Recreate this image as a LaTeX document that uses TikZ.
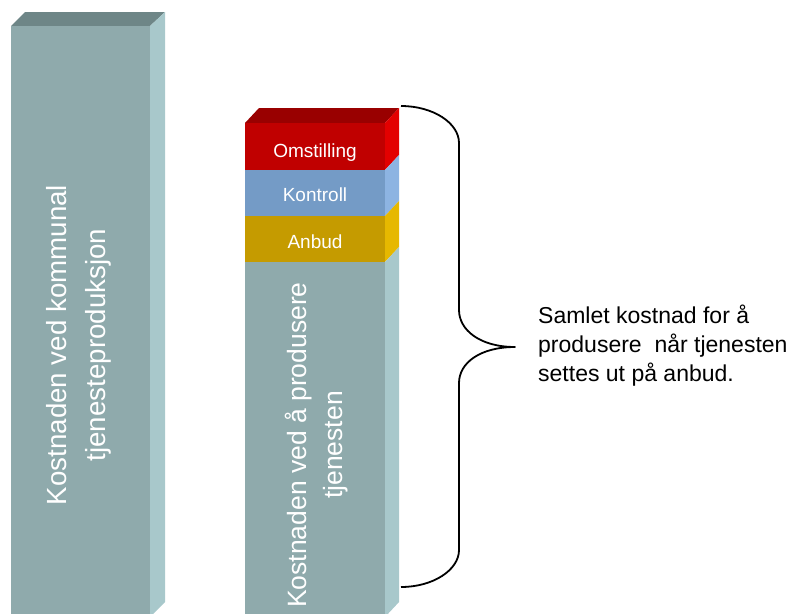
\documentclass[tikz,border=0pt]{standalone}
\usepackage{fontspec}
\setmainfont{Liberation Sans}
\definecolor{greyfront}{RGB}{143,170,172}
\definecolor{greyside}{RGB}{168,200,203}
\definecolor{greytop}{RGB}{110,134,135}
\definecolor{redtop}{RGB}{153,0,0}
\definecolor{redfront}{RGB}{192,0,0}
\definecolor{redside}{RGB}{227,0,0}
\definecolor{bluefront}{RGB}{116,155,198}
\definecolor{blueside}{RGB}{141,180,226}
\definecolor{goldfront}{RGB}{197,155,0}
\definecolor{goldside}{RGB}{230,184,0}
\begin{document}
\begin{tikzpicture}[x=1pt,y=-1pt,
  seglabel/.style={text=white, font=\fontsize{19}{22}\selectfont, anchor=base, inner sep=0pt},
  barlabel/.style={text=white, rotate=90, align=center, inner sep=0pt},
  brace/.style={line width=1.8pt, line join=round}]
\useasboundingbox (0,0) rectangle (794,613);
% left bar
\fill[greytop] (11,26) -- (25,12) -- (165,12) -- (150,26) -- cycle;
\fill[greyfront] (11,26) rectangle (150,620);
\fill[greyside] (150,26) -- (165,12) -- (165,602) -- (150,617) -- cycle;
\node[barlabel, font=\fontsize{27.7}{39}\selectfont] (leftlabel) at (78.5,345)
  {Kostnaden ved kommunal\\tjenesteproduksjon};
% right stack
\fill[redtop] (245,123) -- (259,108) -- (399,108) -- (385,123) -- cycle;
\fill[redfront] (245,123) rectangle (385,170);
\fill[redside] (385,123) -- (399,108) -- (399,155) -- (385,170) -- cycle;
\fill[bluefront] (245,170) rectangle (385,216);
\fill[blueside] (385,170) -- (399,155) -- (399,201) -- (385,216) -- cycle;
\fill[goldfront] (245,216) rectangle (385,262);
\fill[goldside] (385,216) -- (399,201) -- (399,247) -- (385,262) -- cycle;
\fill[greyfront] (245,262) rectangle (385,620);
\fill[greyside] (385,262) -- (399,247) -- (399,602) -- (385,617) -- cycle;
\node[seglabel] (omst) at (315,157) {Omstilling};
\node[seglabel] (kontr) at (315,201.5) {Kontroll};
\node[seglabel] (anbud) at (315,248) {Anbud};
\node[barlabel, font=\fontsize{26.5}{36}\selectfont] (rightlabel) at (316.5,445)
  {Kostnaden ved å produsere\\tjenesten};
% brace
\coordinate (bracetop) at (401,106);
\coordinate (tip) at (515,347);
\coordinate (bracebot) at (401,587);
\draw[brace] (bracetop) .. controls (433,106) and (459,123) .. (459,143)
  -- (459,310) .. controls (459,330) and (480,347) .. (tip)
  .. controls (480,347) and (459,363) .. (459,383)
  -- (459,550) .. controls (459,570) and (433,587) .. (bracebot);
% text
\node[anchor=north west, align=left, inner sep=0pt,
  font=\fontsize{23}{29}\selectfont] (note) at (538,305)
  {Samlet kostnad for å\\produsere\ \ når tjenesten\\settes ut på anbud.};
\end{tikzpicture}
\end{document}
